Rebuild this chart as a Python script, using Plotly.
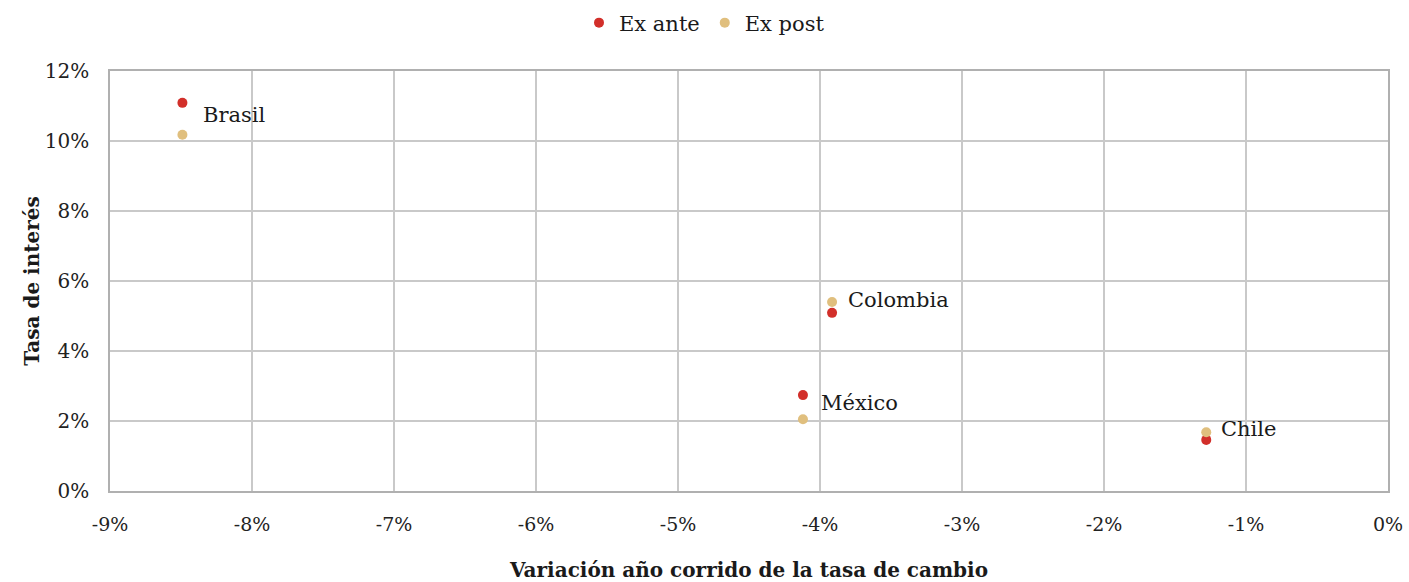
import plotly.graph_objects as go

countries = ["Brasil", "Colombia", "México", "Chile"]
fx_change = [-8.49, -3.915, -4.12, -1.28]          # % variación año corrido
ex_ante = [11.09, 5.09, 2.74, 1.46]                # %
ex_post = [10.18, 5.40, 2.05, 1.68]                # %
x_ticks = [-9, -8, -7, -6, -5, -4, -3, -2, -1, 0]
y_ticks = [0, 2, 4, 6, 8, 10, 12]

FONT = "DejaVu Serif"
RED = "#D22F2A"
TAN = "#E0BF7E"
GRID = "#C9C9C9"

fig = go.Figure()
fig.add_trace(go.Scatter(x=fx_change, y=ex_ante, mode="markers", name="Ex ante",
                         marker=dict(color=RED, size=10)))
fig.add_trace(go.Scatter(x=fx_change, y=ex_post, mode="markers", name="Ex post",
                         marker=dict(color=TAN, size=10)))

label_ref = [ex_ante[0], ex_post[1], ex_ante[2], ex_post[3]]
shifts = [(19, -12), (14, 2), (16, -8), (13, 3)]
for c, x, y, (dx, dy) in zip(countries, fx_change, label_ref, shifts):
    fig.add_annotation(x=x, y=y, text=c, showarrow=False, xanchor="left",
                       yanchor="middle", xshift=dx, yshift=dy,
                       font=dict(family=FONT, size=21, color="#1a1a1a"))

fig.update_layout(
    width=1409, height=582,
    margin=dict(l=110, r=21, t=71, b=91, autoexpand=False),
    paper_bgcolor="white", plot_bgcolor="white",
    font=dict(family=FONT, size=20, color="#222222"),
    legend=dict(orientation="h", x=0.5, xanchor="center", xref="container",
                y=1 - 23 / 582, yanchor="middle", yref="container",
                font=dict(family=FONT, size=21, color="#1a1a1a"),
                itemwidth=30, tracegroupgap=0),
    showlegend=True,
)

fig.update_xaxes(range=[-9, 0], tickvals=x_ticks,
                 ticktext=[f"{v}%" for v in x_ticks],
                 showgrid=True, gridcolor=GRID, gridwidth=1.5,
                 showline=True, linecolor="#B0B0B0", linewidth=1.5, mirror=True,
                 zeroline=False, ticks="", ticklabelstandoff=15, automargin=False,
                 tickfont=dict(family=FONT, size=19, color="#222222"),
                 title=dict(text="<b>Variación año corrido de la tasa de cambio</b>",
                            font=dict(family=FONT, size=20, color="#1a1a1a"),
                            standoff=37))
fig.update_yaxes(range=[0, 12], tickvals=y_ticks,
                 ticktext=[f"{v}%" for v in y_ticks],
                 showgrid=True, gridcolor=GRID, gridwidth=1.5,
                 showline=True, linecolor="#B0B0B0", linewidth=1.5, mirror=True,
                 zeroline=False, ticks="", ticklabelstandoff=15, automargin=False,
                 tickfont=dict(family=FONT, size=20, color="#222222"),
                 title=dict(text="<b>Tasa de interés</b>",
                            font=dict(family=FONT, size=20, color="#1a1a1a"),
                            standoff=0))

fig.write_html("out.html", config={"displayModeBar": False},
               post_script="document.body.style.margin='0';document.body.style.overflow='hidden';")
